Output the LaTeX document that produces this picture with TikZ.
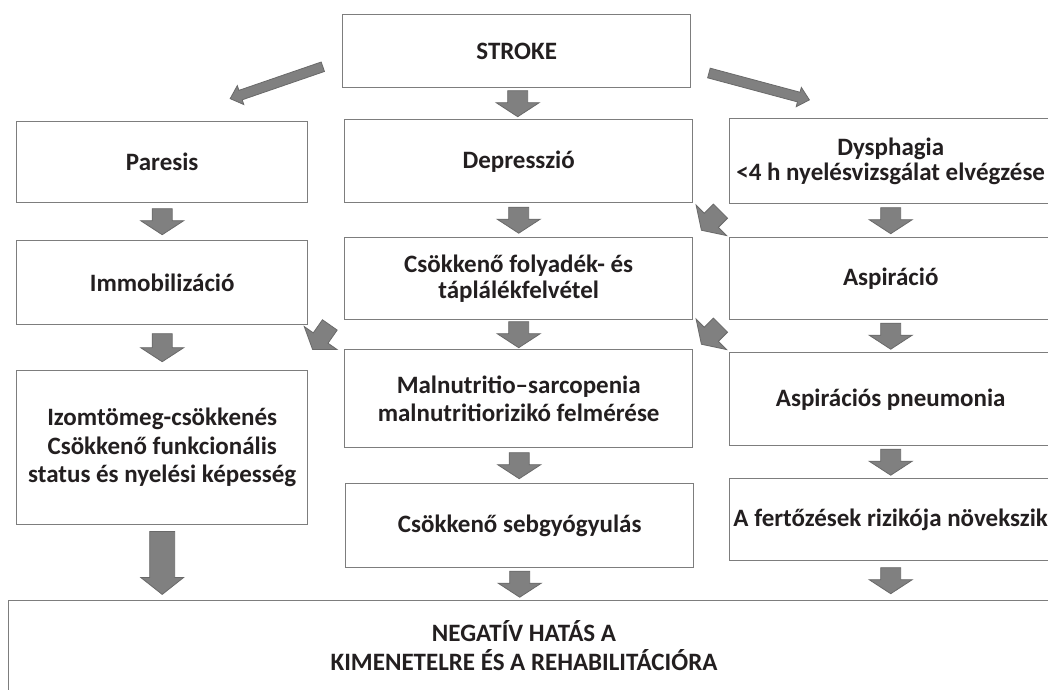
\documentclass[tikz,border=0pt]{standalone}
\usepackage{fontspec}
\setmainfont{Carlito}
\usetikzlibrary{calc}
\definecolor{boxline}{RGB}{125,125,125}
\definecolor{arrfill}{RGB}{128,128,128}
\definecolor{arrline}{RGB}{105,105,105}
\definecolor{txt}{RGB}{35,31,32}
\begin{document}
\begin{tikzpicture}[x=1pt,y=-1pt,
  box/.style={draw=boxline, line width=1.4pt, fill=white, inner sep=0pt, align=center,
    anchor=north west, font=\bfseries\fontsize{25}{28.5}\selectfont, text=txt},
  tight/.style={font=\bfseries\fontsize{25}{25.5}\selectfont},
  lbl/.style={inner sep=0pt, align=center, font=\bfseries\fontsize{25}{29}\selectfont, text=txt},
  pics/blk/.style n args={4}{code={
    \filldraw[fill=arrfill, draw=arrline, line width=0.8pt]
      ({-#1/2},{-#2}) -- ({#1/2-#4},{-#2}) -- ({#1/2-#4},{-#3}) -- ({#1/2},0)
      -- ({#1/2-#4},{#3}) -- ({#1/2-#4},{#2}) -- ({-#1/2},{#2}) -- cycle;}},
]
\useasboundingbox (0,0) rectangle (1048,689);
\fill[white] (0,0) rectangle (1048,689);
\clip (0,0) rectangle (1048,689);

% boxes
\node[box, minimum width=348pt, minimum height=73pt] (stroke) at (342,14) {STROKE};
\node[box, minimum width=291pt, minimum height=81pt] (paresis) at (16,121) {Paresis};
\node[box, minimum width=348pt, minimum height=83pt] (depr) at (344,119) {Depresszió};
\node[box, tight, minimum width=323pt, minimum height=85pt] (dysph) at (728.5,118) {Dysphagia\\<4 h nyelésvizsgálat elvégzése};
\node[box, minimum width=291pt, minimum height=84pt] (immob) at (16,240) {Immobilizáció};
\node[box, tight, minimum width=348pt, minimum height=82pt] (csokk) at (344,237) {Csökkenő folyadék- és\\táplálékfelvétel};
\node[box, minimum width=323pt, minimum height=82pt] (aspir) at (728.5,237) {Aspiráció};
\node[box, minimum width=291pt, minimum height=154pt] (izom) at (16,370) {Izomtömeg-csökkenés\\Csökkenő funkcionális\\status és nyelési képesség};
\node[box, minimum width=348pt, minimum height=98pt] (malnut) at (344,349) {Malnutritio–sarcopenia\\malnutritiorizikó felmérése};
\node[box, minimum width=323pt, minimum height=93pt] (pneu) at (728.5,352) {Aspirációs pneumonia};
\node[box, minimum width=348pt, minimum height=84pt] (seb) at (345,483) {Csökkenő sebgyógyulás};
\node[box, minimum width=323pt, minimum height=82pt] (fert) at (728.5,478) {A fertőzések rizikója növekszik};
\node[box, minimum width=1052pt, minimum height=100pt] (bottom) at (8,600) {};
\node[lbl] (bottomtext) at (524,645.5) {NEGATÍV HATÁS A\\KIMENETELRE ÉS A REHABILITÁCIÓRA};

% vertical block arrows
\pic[rotate=-90] at ($(stroke.south)!0.5!(depr.north)$) {blk={26}{10}{21.5}{14}};
\pic[rotate=-90] at ($(paresis.south)!0.5!(immob.north)$) {blk={26}{10}{21.5}{14}};
\pic[rotate=-90] at ($(depr.south)!0.5!(csokk.north)$) {blk={26}{10}{21.5}{14}};
\pic[rotate=-90] at ($(dysph.south)!0.5!(aspir.north)$) {blk={26}{10}{21.5}{14}};
\pic[rotate=-90] at ($(immob.south)!0.5!(izom.north)$) {blk={28}{10}{21.5}{14}};
\pic[rotate=-90] at ($(csokk.south)!0.5!(malnut.north)$) {blk={26}{10}{21.5}{14}};
\pic[rotate=-90] at ($(aspir.south)!0.5!(pneu.north)$) {blk={26}{10}{21.5}{14}};
\pic[rotate=-90] at ($(malnut.south)!0.5!(seb.north)$) {blk={26}{10}{21.5}{14}};
\pic[rotate=-90] at ($(pneu.south)!0.5!(fert.north)$) {blk={26}{10}{21.5}{14}};
\pic[rotate=-90] at ($(izom.south)+(0,37.5)$) {blk={63}{12.5}{21.5}{17}};
\pic[rotate=-90] at ($(seb.south)!0.5!(bottom.north -| seb.south)$) {blk={26}{10}{21.5}{14}};
\pic[rotate=-90] at ($(fert.south)!0.5!(bottom.north -| fert.south)$) {blk={26}{10}{21.5}{14}};

% diagonal short arrows
\pic[rotate=-135] at ($(dysph.south west)!0.5!(csokk.north east)$) {blk={27}{10}{21.5}{14}};
\pic[rotate=-135] at ($(aspir.south west)!0.5!(malnut.north east)$) {blk={27}{10}{21.5}{14}};
\pic[rotate=-125] at ($(csokk.south west)!0.5!(izom.north east)+(-5,-8)$) {blk={30}{9}{20}{14}};

% long diagonal arrows from STROKE
\pic[rotate=-161] at ($(stroke.west)+(-65.5,31.5)$) {blk={98}{5}{10}{11}};
\pic[rotate=-15] at ($(stroke.east)+(67.75,35.25)$) {blk={104}{5}{10}{11}};
\end{tikzpicture}
\end{document}
